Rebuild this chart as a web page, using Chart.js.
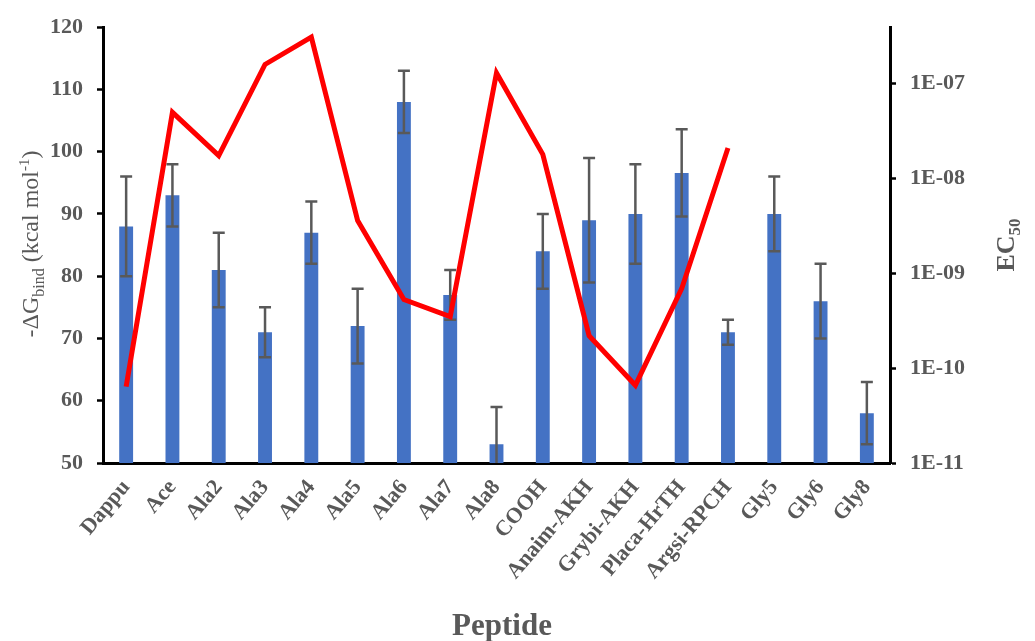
<!DOCTYPE html>
<html>
<head>
<meta charset="utf-8">
<script src="https://cdn.jsdelivr.net/npm/chart.js@4.4.1/dist/chart.umd.min.js"></script>
<style>
  html, body { margin: 0; padding: 0; background: #fff; }
</style>
</head>
<body>
<canvas id="chartPeptidos" width="1035" height="641"></canvas>
<script>
const peptides = ['Dappu', 'Ace', 'Ala2', 'Ala3', 'Ala4', 'Ala5', 'Ala6', 'Ala7', 'Ala8', 'COOH',
                  'Anaim-AKH', 'Grybi-AKH', 'Placa-HrTH', 'Argsi-RPCH', 'Gly5', 'Gly6', 'Gly8'];
// -dG bind (kcal/mol) con su desviacion
const dGbind = [88, 93, 81, 71, 87, 72, 108, 77, 53, 84, 89, 90, 96.6, 71, 90, 76, 58];
const dGerr  = [8, 5, 6, 4, 5, 6, 5, 4, 6, 6, 10, 8, 7, 2, 6, 6, 5];
// EC50 (M), sin dato para Gly5, Gly6, Gly8
const ec50 = [6.4e-11, 5.0e-8, 1.75e-8, 1.6e-7, 3.1e-7, 3.6e-9, 5.3e-10, 3.5e-10, 1.3e-7, 1.8e-8,
              2.2e-10, 6.6e-11, 6.9e-10, 2.1e-8, null, null, null];
const ec50Ticks = [1e-11, 1e-10, 1e-9, 1e-8, 1e-7];

const GRIS = '#595959';
const SERIF = '"Liberation Serif", "Times New Roman", serif';

// texto con subindices / superindices
function drawRich(ctx, parts, cx, cy, rot) {
    ctx.save();
    ctx.translate(cx, cy);
    ctx.rotate(rot);
    ctx.fillStyle = GRIS;
    ctx.textBaseline = 'alphabetic';
    ctx.textAlign = 'left';
    let total = 0;
    parts.forEach(p => { ctx.font = p.font; total += ctx.measureText(p.text).width; });
    let x = -total / 2;
    parts.forEach(p => {
        ctx.font = p.font;
        ctx.fillText(p.text, x, p.dy || 0);
        x += ctx.measureText(p.text).width;
    });
    ctx.restore();
}

const errorBars = {
    id: 'errorBars',
    afterDatasetDraw(chart, args) {
        if (args.index !== 0) return;
        const ctx = chart.ctx;
        const y = chart.scales.y;
        const area = chart.chartArea;
        const meta = chart.getDatasetMeta(0);
        ctx.save();
        ctx.strokeStyle = GRIS;
        ctx.lineWidth = 2.5;
        meta.data.forEach((bar, i) => {
            const x = bar.x;
            let top = y.getPixelForValue(dGbind[i] + dGerr[i]);
            let bot = y.getPixelForValue(dGbind[i] - dGerr[i]);
            const cutBot = bot > area.bottom;
            if (cutBot) bot = area.bottom;
            ctx.beginPath();
            ctx.moveTo(x, top); ctx.lineTo(x, bot);
            ctx.moveTo(x - 6, top); ctx.lineTo(x + 6, top);
            if (!cutBot) { ctx.moveTo(x - 6, bot); ctx.lineTo(x + 6, bot); }
            ctx.stroke();
        });
        ctx.restore();
    }
};

const axisTitles = {
    id: 'axisTitles',
    afterDraw(chart) {
        const ctx = chart.ctx;
        const f = (s, b) => (b ? 'bold ' : '') + s + 'px ' + SERIF;
        drawRich(ctx, [
            { text: '-\u0394G', font: f(24) },
            { text: 'bind', font: f(16), dy: 6 },
            { text: ' (kcal mol', font: f(24) },
            { text: '-1', font: f(15), dy: -9 },
            { text: ')', font: f(24) }
        ], 38, 244, -Math.PI / 2);
        drawRich(ctx, [
            { text: 'EC', font: f(26, true) },
            { text: '50', font: f(17, true), dy: 6 }
        ], 1014, 245, -Math.PI / 2);
        drawRich(ctx, [{ text: 'Peptide', font: f(31, true) }], 502, 635, 0);
    }
};

const ctx = document.getElementById('chartPeptidos').getContext('2d');
new Chart(ctx, {
    data: {
        labels: peptides,
        datasets: [
            {
                type: 'bar',
                label: '-dG bind',
                data: dGbind,
                backgroundColor: '#4472C4',
                barPercentage: 0.3,
                categoryPercentage: 1,
                yAxisID: 'y',
                order: 2
            },
            {
                type: 'line',
                label: 'EC50',
                data: ec50,
                borderColor: '#FF0000',
                borderWidth: 5,
                borderJoinStyle: 'miter',
                pointRadius: 0,
                tension: 0,
                fill: false,
                yAxisID: 'y2',
                order: 1
            }
        ]
    },
    options: {
        responsive: false,
        animation: false,
        devicePixelRatio: 1,
        layout: { padding: { top: 25, left: 0, right: 0, bottom: 0 } },
        plugins: { legend: { display: false }, tooltip: { enabled: false } },
        scales: {
            x: {
                grid: { display: false, drawTicks: false },
                border: { display: true, color: '#000', width: 3 },
                ticks: {
                    autoSkip: false, minRotation: 50, maxRotation: 50, padding: 12,
                    color: GRIS, font: { family: SERIF, size: 22, weight: 'bold' }
                },
                afterFit(s) { s.height = 641 - 25 - 438; }
            },
            y: {
                position: 'left',
                min: 50, max: 120,
                grid: { display: true, drawOnChartArea: false, drawTicks: true, tickLength: 6, tickWidth: 2.5, tickColor: '#000' },
                border: { display: true, color: '#000', width: 3 },
                ticks: { stepSize: 10, padding: 14, color: GRIS, font: { family: SERIF, size: 22, weight: 'bold' } },
                afterFit(s) { s.width = 103; }
            },
            y2: {
                type: 'logarithmic',
                position: 'right',
                min: 1e-11, max: 3.95e-7,
                grid: { display: true, drawOnChartArea: false, drawTicks: true, tickLength: 6, tickWidth: 2.5, tickColor: '#000' },
                border: { display: true, color: '#000', width: 3 },
                afterBuildTicks(s) { s.ticks = ec50Ticks.map(v => ({ value: v })); },
                ticks: {
                    padding: 14, color: GRIS, font: { family: SERIF, size: 22, weight: 'bold' },
                    callback: v => '1E-' + String(-Math.round(Math.log10(v))).padStart(2, '0')
                },
                afterFit(s) { s.width = 145; }
            }
        }
    },
    plugins: [errorBars, axisTitles]
});
</script>
</body>
</html>
